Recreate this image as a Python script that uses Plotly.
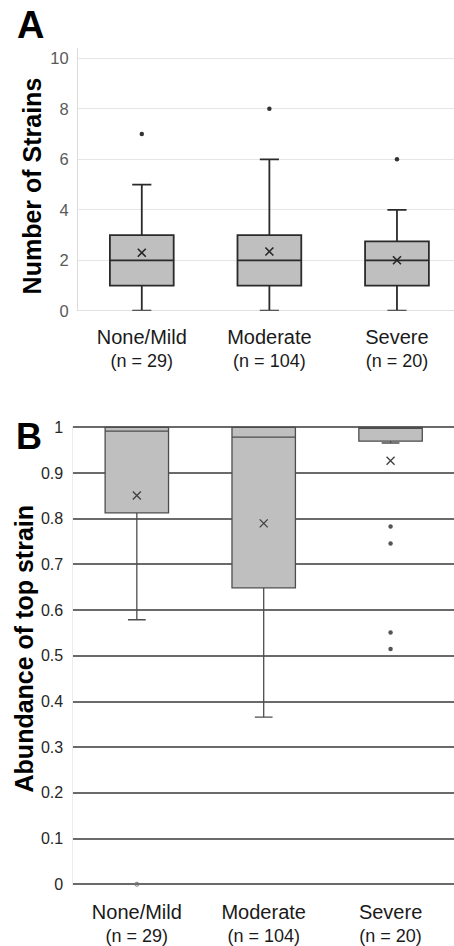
import plotly.graph_objects as go

# ---------------- data ----------------
categories = ["None/Mild", "Moderate", "Severe"]
n_labels = ["(n = 29)", "(n = 104)", "(n = 20)"]

# Panel A: Number of strains
a_q1 = [1, 1, 1]
a_median = [2, 2, 2]
a_q3 = [3, 3, 2.75]
a_lower = [0, 0, 0]
a_upper = [5, 6, 4]
a_mean = [2.3, 2.35, 2.0]
a_outlier_cat = [0, 1, 2]
a_outlier_val = [7, 8, 6]

# Panel B: Abundance of top strain
b_q1 = [0.813, 0.649, 0.970]
b_median = [0.992, 0.979, 1.0]
b_q3 = [1.0, 1.0, 1.0]
b_lower = [0.579, 0.366, 0.966]
b_upper = [1.0, 1.0, 1.0]
b_mean = [0.851, 0.790, 0.927]
b_outlier_cat = [2, 2, 2, 2]
b_outlier_val = [0.783, 0.746, 0.551, 0.515]
b_hollow_cat = [0]
b_hollow_val = [0.0]

a_yticks = [0, 2, 4, 6, 8, 10]
b_yticks = [0, 0.1, 0.2, 0.3, 0.4, 0.5, 0.6, 0.7, 0.8, 0.9, 1]
b_yticktext = ["0", "0.1", "0.2", "0.3", "0.4", "0.5", "0.6", "0.7", "0.8", "0.9", "1"]

# ---------------- figure ----------------
W, H = 454, 946
FONT = "Liberation Sans, Arial, sans-serif"
pos = list(range(len(categories)))

fig = go.Figure()

# Panel A boxes
fig.add_trace(go.Box(
    x=pos, q1=a_q1, median=a_median, q3=a_q3,
    lowerfence=a_lower, upperfence=a_upper,
    width=0.5, whiskerwidth=0.3,
    fillcolor="#bfbfbf", line=dict(color="#2a2a2a", width=1.8),
    boxpoints=False, xaxis="x", yaxis="y", showlegend=False, hoverinfo="skip"))
fig.add_trace(go.Scatter(
    x=pos, y=a_mean, mode="markers",
    marker=dict(symbol="x-thin", size=8, line=dict(color="#262626", width=1.6)),
    xaxis="x", yaxis="y", showlegend=False, hoverinfo="skip"))
fig.add_trace(go.Scatter(
    x=a_outlier_cat, y=a_outlier_val, mode="markers",
    marker=dict(symbol="circle", size=4.5, color="#333333"),
    xaxis="x", yaxis="y", showlegend=False, hoverinfo="skip"))

# Panel B boxes
fig.add_trace(go.Box(
    x=pos, q1=b_q1, median=b_median, q3=b_q3,
    lowerfence=b_lower, upperfence=b_upper,
    width=0.5, whiskerwidth=0.28,
    fillcolor="#bfbfbf", line=dict(color="#4d4d4d", width=1.3),
    boxpoints=False, xaxis="x2", yaxis="y2", showlegend=False, hoverinfo="skip"))
fig.add_trace(go.Scatter(
    x=pos, y=b_mean, mode="markers",
    marker=dict(symbol="x-thin", size=8, line=dict(color="#404040", width=1.3)),
    xaxis="x2", yaxis="y2", showlegend=False, hoverinfo="skip"))
fig.add_trace(go.Scatter(
    x=b_outlier_cat, y=b_outlier_val, mode="markers",
    marker=dict(symbol="circle", size=4.5, color="#555555"),
    xaxis="x2", yaxis="y2", showlegend=False, hoverinfo="skip"))
fig.add_trace(go.Scatter(
    x=b_hollow_cat, y=b_hollow_val, mode="markers", cliponaxis=False,
    marker=dict(symbol="circle-open", size=4, color="#777777", line=dict(width=1)),
    xaxis="x2", yaxis="y2", showlegend=False, hoverinfo="skip"))

ticktext = [f"<span style='font-size:20px'>{c}</span><br>{n}" for c, n in zip(categories, n_labels)]

fig.update_layout(
    width=W, height=H,
    margin=dict(l=0, r=0, t=0, b=0),
    paper_bgcolor="white", plot_bgcolor="white",
    font=dict(family=FONT, color="#1a1a1a"),
    xaxis=dict(domain=[78 / W, 1.0], range=[-0.5, 2.447], anchor="y",
               tickvals=pos, ticktext=ticktext, showgrid=False, zeroline=False,
               showline=False, ticks="", ticklabelstandoff=14,
               tickfont=dict(size=18, color="#1a1a1a", family=FONT)),
    yaxis=dict(domain=[1 - 309 / H, 1 - 42 / H], range=[0, 10.4], anchor="x",
               tickvals=a_yticks, showgrid=True, gridcolor="#e6e6e6", gridwidth=1,
               zeroline=True, zerolinecolor="#e0e0e0", zerolinewidth=1,
               showline=True, linecolor="#dcdcdc", linewidth=1,
               ticks="", ticklabelstandoff=5,
               tickfont=dict(size=16.5, color="#595959", family=FONT)),
    xaxis2=dict(domain=[73.4 / W, 1.0], range=[-0.5, 2.5], anchor="y2",
                tickvals=pos, ticktext=ticktext, showgrid=False, zeroline=False,
                showline=False, ticks="", ticklabelstandoff=14,
                tickfont=dict(size=18, color="#1a1a1a", family=FONT)),
    yaxis2=dict(domain=[1 - 893.7 / H, 1 - 426.3 / H], range=[-0.003, 1.003], anchor="x2",
                tickvals=b_yticks, ticktext=b_yticktext,
                showgrid=True, gridcolor="#6a6a6a", gridwidth=1.5,
                zeroline=False, showline=True, linecolor="#ececec", linewidth=1,
                ticks="", ticklabelstandoff=6,
                tickfont=dict(size=16, color="#262626", family=FONT)),
    annotations=[
        dict(text="<b>A</b>", x=30 / W, y=1 - 18 / H, xref="paper", yref="paper",
             xanchor="center", yanchor="middle", showarrow=False,
             font=dict(size=38, color="black", family=FONT)),
        dict(text="<b>B</b>", x=28.5 / W, y=1 - 437 / H, xref="paper", yref="paper",
             xanchor="center", yanchor="middle", showarrow=False,
             font=dict(size=36, color="black", family=FONT)),
        dict(text="<b>Number of Strains</b>", x=32 / W, y=1 - 182.5 / H,
             xref="paper", yref="paper", xanchor="center", yanchor="middle",
             textangle=-90, showarrow=False,
             font=dict(size=25, color="black", family=FONT)),
        dict(text="<b>Abundance of top strain</b>", x=24 / W, y=1 - 652.5 / H,
             xref="paper", yref="paper", xanchor="center", yanchor="middle",
             textangle=-90, showarrow=False,
             font=dict(size=25, color="black", family=FONT)),
    ],
)

fig.write_html("out.html")
